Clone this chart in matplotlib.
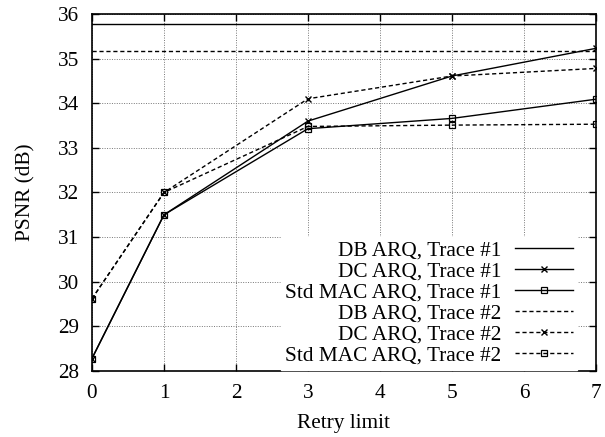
import matplotlib.pyplot as plt

# data
retry = [0, 1, 3, 5, 7]
db_t1 = 35.78
db_t2 = 35.18
dc_t1 = [28.28, 31.5, 33.6, 34.61, 35.23]
std_t1 = [28.28, 31.5, 33.43, 33.66, 34.09]
dc_t2 = [29.62, 32.0, 34.1, 34.61, 34.78]
std_t2 = [29.62, 32.0, 33.48, 33.51, 33.53]

plt.rcParams['font.family'] = ['Liberation Serif', 'DejaVu Serif']

fig = plt.figure(figsize=(6.05, 4.37), dpi=100)
ax = fig.add_axes([0.152, 0.151, 0.833, 0.817])

dash = (0, (3, 2))
lw = 1.0
fs = 15.3

ax.plot([0, 7], [db_t1, db_t1], color='black', lw=lw, label='DB ARQ, Trace #1')
ax.plot(retry, dc_t1, color='black', lw=lw, marker='x', ms=5, mew=1,
        label='DC ARQ, Trace #1')
ax.plot(retry, std_t1, color='black', lw=lw, marker='s', ms=5, mew=0.9,
        mfc='none', label='Std MAC ARQ, Trace #1')
ax.plot([0, 7], [db_t2, db_t2], color='black', lw=lw, ls=dash,
        label='DB ARQ, Trace #2')
ax.plot(retry, dc_t2, color='black', lw=lw, ls=dash, marker='x', ms=5, mew=1,
        label='DC ARQ, Trace #2')
ax.plot(retry, std_t2, color='black', lw=lw, ls=dash, marker='s', ms=5,
        mew=0.9, mfc='none', label='Std MAC ARQ, Trace #2')

ax.set_xlim(0, 7)
ax.set_ylim(28, 36)
ax.set_xticks(range(0, 8))
ax.set_yticks(range(28, 37))
ax.tick_params(direction='in', length=5, width=1, top=True, right=True,
               labelsize=fs, pad=9)
for s in ax.spines.values():
    s.set_linewidth(1.2)

ax.grid(True, color='#777777', ls=(0, (1, 1.5)), lw=0.7)
ax.set_axisbelow(True)

ax.set_xlabel('Retry limit', fontsize=fs, labelpad=8)
ax.set_ylabel('PSNR (dB)', fontsize=fs, labelpad=16)

leg = ax.legend(loc='lower right', bbox_to_anchor=(0.962, 0.004),
                markerfirst=False, fontsize=fs,
                frameon=True, facecolor='white', edgecolor='white',
                framealpha=1, fancybox=False, handlelength=2.7,
                labelspacing=0.05, borderpad=0.2, borderaxespad=0,
                handletextpad=0.65)

fig.savefig('out.png', dpi=100)
